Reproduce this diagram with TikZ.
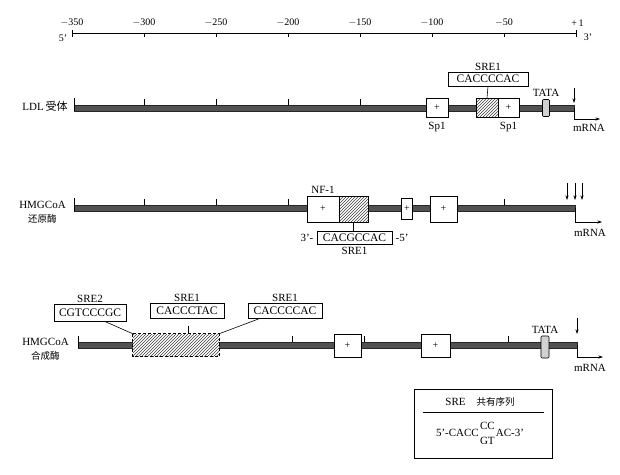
\documentclass[tikz,border=0pt]{standalone}
\usepackage{fontspec}
\usepackage{amsmath}
\setmainfont{Liberation Serif}
\newfontfamily\cjk{Noto Sans CJK SC}
\usetikzlibrary{arrows.meta,positioning,calc,patterns}
\tikzset{
  bar/.style       = {draw=black!85, fill=black!68},
  plusbox/.style   = {draw, fill=white, inner sep=0pt, font=\fontsize{10}{10}\selectfont},
  hatchbox/.style  = {draw, preaction={fill=white}, pattern=north east lines,
                      pattern color=black!75, inner sep=0pt},
  tatabox/.style   = {draw, fill=black!18, rounded corners=1pt, inner sep=0pt},
  seqbox/.style    = {draw, fill=white, inner sep=1.5pt, minimum height=14pt,
                      font=\fontsize{11.5}{12}\selectfont},
  lbl/.style       = {font=\fontsize{11}{12}\selectfont, inner sep=1pt},
  numlbl/.style    = {font=\fontsize{10}{11}\selectfont, inner sep=1pt},
  genelbl/.style   = {font=\fontsize{11}{14}\selectfont, align=center, inner sep=1pt},
  tick/.style      = {line width=0.5pt},
  sig/.style       = {-{Stealth[length=4.5pt,width=3pt]}, line width=0.6pt},
}
\begin{document}
\begin{tikzpicture}[x=1pt,y=-1pt,line width=0.6pt]
  \useasboundingbox (0,0) rectangle (620,474);
  % position scale
  \coordinate (sleft) at (72,33);
  \coordinate (sright) at (576,33);
  \draw (sleft) -- (sright);
  \draw[tick] ($(sleft)+(0,-3)$) -- ++(0,7);
  \draw[tick] ($(sright)+(0,-3)$) -- ++(0,7);
  \foreach \p in {-300,-250,-200,-150,-100,-50}
    \draw[tick] ({576+1.44*\p},33) -- ++(0,4);
  \foreach \p/\t in {-350/$-$350,-300/$-$300,-250/$-$250,-200/$-$200,-150/$-$150,-100/$-$100,-50/$-$50,1/+\,1}
    \node[numlbl] at ({576+1.44*\p},23) {\t};
  \node[numlbl] (five) at (63,38) {5'};
  \node[numlbl] (three) at (588,37) {3'};

  % LDL receptor
  \node[genelbl, anchor=east] (ldl) at (69,106) {LDL\,{\cjk 受体}};
  \draw[bar] (74,105) rectangle (574,111);
  \draw[tick] (74,111) -- (74,98);
  \foreach \p in {-300,-250,-200,-150}
    \draw[tick] ({576+1.44*\p},105) -- ++(0,-6);
  \node[plusbox, minimum width=22pt, minimum height=19pt] (ldlspa) at (437,108) {+};
  \node[hatchbox, minimum width=22pt, minimum height=19pt] (ldlsre) at (487,108) {};
  \node[plusbox, minimum width=21pt, minimum height=19pt] (ldlspb) at (508.5,108) {+};
  \node[tatabox, minimum width=7pt, minimum height=17pt] (ldltata) at (546,108) {};
  \node[lbl, above=1pt of ldltata] {TATA};
  \node[lbl, below=3pt of ldlspa] {Sp1};
  \node[lbl, below=3pt of ldlspb] {Sp1};
  \node[seqbox, minimum width=80pt] (ldlseq) at (488,79) {CACCCCAC};
  \node[lbl, above=0pt of ldlseq] {SRE1};
  \draw (ldlseq.south) -- (ldlsre.north);
  \coordinate (ldlend) at (574,108);
  \draw[sig] ($(ldlend)+(0,-20)$) -- ($(ldlend)+(0,-5)$);
  \draw[sig] (ldlend) -- ++(0,11) -- ++(26,0);
  \node[lbl] (ldlrna) at (589,128) {mRNA};

  % HMGCoA reductase
  \node[genelbl, anchor=east] (red) at (67,212) {HMGCoA\\{\cjk\fontsize{9.5}{9.5}\selectfont 还原酶}};
  \draw[bar] (74,205) rectangle (575,211);
  \draw[tick] (74,211) -- (74,198);
  \foreach \p in {-300,-250,-200,-50}
    \draw[tick] ({576+1.44*\p},205) -- ++(0,-6);
  \node[plusbox, minimum width=32pt, minimum height=26pt] (rednf) at (323,209) {+};
  \node[hatchbox, minimum width=29pt, minimum height=26pt] (redsre) at (353.5,209) {};
  \node[plusbox, minimum width=11pt, minimum height=21pt] (redsm) at (407,208.5) {+};
  \node[plusbox, minimum width=27pt, minimum height=26pt] (redpl) at (443.5,209) {+};
  \node[lbl, above=1pt of rednf] {NF-1};
  \node[seqbox, minimum width=75pt, minimum height=13pt] (redseq) at (354.5,238) {CACGCCAC};
  \node[lbl, left=2pt of redseq] {3'-};
  \node[lbl, right=2pt of redseq] {-5'};
  \node[lbl, below=1pt of redseq] {SRE1};
  \draw (redsre.south) -- (redsre.south |- redseq.north);
  \coordinate (redend) at (575,208);
  \foreach \dx in {-8,0,7}
    \draw[sig] ($(redend)+(\dx,-25)$) -- ($(redend)+(\dx,-8)$);
  \draw[sig] (redend) -- ++(0,14) -- ++(27,0);
  \node[lbl] (redrna) at (590,233) {mRNA};

  % HMGCoA synthase
  \node[genelbl, anchor=east] (syn) at (70,349) {HMGCoA\\{\cjk\fontsize{9.5}{9.5}\selectfont 合成酶}};
  \draw[bar] (78,342) rectangle (577,348);
  \draw[tick] (78,348) -- (78,336);
  \foreach \p in {-200,-150,-50}
    \draw[tick] ({580+1.44*\p},342) -- ++(0,-6);
  \node[hatchbox, draw=none, minimum width=86pt, minimum height=22pt] (synsre) at (176,345) {};
  \draw[densely dashed] (synsre.north west) rectangle (synsre.south east);
  \draw[tick] (188,334) -- (188,326);
  \node[plusbox, minimum width=27pt, minimum height=23pt] (synpa) at (347.5,346) {+};
  \node[plusbox, minimum width=29pt, minimum height=23pt] (synpb) at (435.5,346) {+};
  \node[tatabox, minimum width=8pt, minimum height=22pt] (syntata) at (545,347) {};
  \node[lbl, above=1pt of syntata] {TATA};
  \node[seqbox, minimum width=72pt, minimum height=17pt] (synsa) at (90,312.5) {CGTCCCGC};
  \node[seqbox, minimum width=74pt, minimum height=15pt] (synsb) at (187,311) {CACCCTAC};
  \node[seqbox, minimum width=74pt, minimum height=15pt] (synsc) at (285,311) {CACCCCAC};
  \node[lbl, above=0pt of synsa] {SRE2};
  \node[lbl, above=0pt of synsb] {SRE1};
  \node[lbl, above=0pt of synsc] {SRE1};
  \draw ($(synsa.south west)!0.7!(synsa.south east)$) -- (synsre.north west);
  \draw ($(synsc.south west)!0.15!(synsc.south east)$) -- (synsre.north east);
  \coordinate (synend) at (577,345);
  \draw[sig] ($(synend)+(0,-27)$) -- ($(synend)+(0,-11)$);
  \draw[sig] (synend) -- ++(0,12) -- ++(26,0);
  \node[lbl] (synrna) at (590,368) {mRNA};

  % consensus box
  \node[draw, minimum width=138pt, minimum height=69pt] (cons) at (483,423.5) {};
  \node[lbl] (constitle) at (480,402) {SRE\quad{\cjk\fontsize{9.5}{9.5}\selectfont 共有序列}};
  \draw ($(cons.north west)+(9,24)$) -- ($(cons.north east)+(-8,24)$);
  \node[lbl] (consseq) at (480,433) {5'-CACC$\genfrac{}{}{0pt}{0}{\text{CC}}{\text{GT}}$AC-3'};
\end{tikzpicture}
\end{document}
